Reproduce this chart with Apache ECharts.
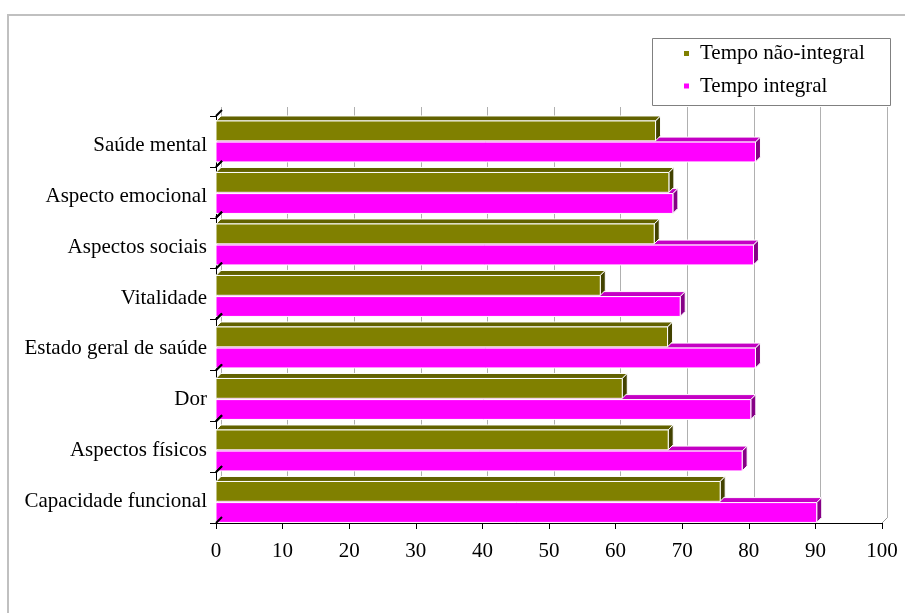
<!DOCTYPE html>
<html>
<head>
<meta charset="utf-8">
<script src="https://cdn.jsdelivr.net/npm/echarts@6/dist/echarts.min.js"></script>
<style>
  html, body { margin: 0; padding: 0; background: #fff; }
  #chart { width: 905px; height: 613px; }
</style>
</head>
<body>
<div id="chart"></div>
<script>
// Domains of the quality-of-life questionnaire, listed bottom to top
const categories = [
  'Capacidade funcional',
  'Aspectos físicos',
  'Dor',
  'Estado geral de saúde',
  'Vitalidade',
  'Aspectos sociais',
  'Aspecto emocional',
  'Saúde mental'
];
const tempoNaoIntegral = [75.7, 67.9, 61, 67.8, 57.7, 65.8, 68, 66];
const tempoIntegral = [90.2, 79, 80.3, 81, 69.7, 80.7, 68.6, 81];
const xTicks = [0, 10, 20, 30, 40, 50, 60, 70, 80, 90, 100];

const seriesNames = ['Tempo não-integral', 'Tempo integral'];
const FONT = "'Liberation Serif', 'Times New Roman', serif";
const FONT_SIZE = 21;
const DEPTH = 5;

// colours for front, top and side faces of each series
const palette = [
  { front: '#808000', top: '#626200', side: '#424200' },
  { front: '#ff00ff', top: '#c400c4', side: '#860086' }
];

function makeBar(slot) {
  const col = palette[slot];
  return function (params, api) {
    const v = api.value(0);
    const c = api.value(1);
    const p0 = api.coord([0, c]);
    const p1 = api.coord([v, c]);
    const band = api.size([0, 1])[1];
    const top = p0[1] - band / 2;
    const y = top + band * (slot === 0 ? 0.155 : 0.565);
    const h = band * 0.385;
    const x0 = p0[0], x1 = p1[0], d = DEPTH;
    const stroke = { stroke: '#ffffff', lineWidth: 1 };
    return {
      type: 'group',
      children: [
        {
          type: 'polygon',
          shape: { points: [[x0, y], [x1, y], [x1 + d, y - d], [x0 + d, y - d]] },
          style: Object.assign({ fill: col.top }, stroke)
        },
        {
          type: 'polygon',
          shape: { points: [[x1, y], [x1 + d, y - d], [x1 + d, y + h - d], [x1, y + h]] },
          style: Object.assign({ fill: col.side }, stroke)
        },
        {
          type: 'rect',
          shape: { x: x0, y: y, width: x1 - x0, height: h },
          style: Object.assign({ fill: col.front }, stroke)
        }
      ]
    };
  };
}

// small perspective marks on the left wall at each category boundary
function wallMark(params, api) {
  const c = api.value(0);
  const p = api.coord([0, c]);
  const band = api.size([0, 1])[1];
  const marks = [];
  [p[1] - band / 2, p[1] + band / 2].forEach(function (yy) {
    marks.push({
      type: 'line',
      shape: { x1: p[0], y1: yy, x2: p[0] + 6, y2: yy - 6 },
      style: { stroke: '#000', lineWidth: 2 }
    });
  });
  return { type: 'group', children: marks };
}

// floor edge marks going back from each value tick
function floorMark(params, api) {
  const v = api.value(0);
  const p = api.coord([v, 0]);
  const band = api.size([0, 1])[1];
  const yy = p[1] + band / 2;
  return {
    type: 'line',
    shape: { x1: p[0], y1: yy, x2: p[0] + DEPTH, y2: yy - DEPTH },
    style: { stroke: '#9a9a9a', lineWidth: 1 }
  };
}

const chart = echarts.init(document.getElementById('chart'), null, { renderer: 'canvas' });

chart.setOption({
  backgroundColor: '#ffffff',
  animation: false,
  textStyle: { fontFamily: FONT },
  graphic: [
    {
      type: 'rect',
      shape: { x: 8, y: 15, width: 1000, height: 800 },
      style: { fill: 'none', stroke: '#c0c0c0', lineWidth: 2 },
      silent: true, z: -10
    },
    {
      type: 'rect',
      shape: { x: 652.5, y: 38.5, width: 238, height: 67 },
      style: { fill: '#fff', stroke: '#808080', lineWidth: 1 },
      silent: true, z: 0
    }
  ],
  legend: {
    orient: 'vertical',
    left: 684,
    top: 43,
    padding: 0,
    itemGap: 11.5,
    itemWidth: 5,
    itemHeight: 5,
    data: [
      { name: seriesNames[0], icon: 'rect' },
      { name: seriesNames[1], icon: 'rect' }
    ],
    textStyle: { fontFamily: FONT, fontSize: FONT_SIZE, color: '#000', padding: [0, 0, 0, 6] },
    z: 5
  },
  grid: [
    // front plane: axis lines and ticks
    { left: 216, right: 23, top: 116, bottom: 90 },
    // back wall: grid lines
    { left: 221, right: 18, top: 107, bottom: 95 },
    // bar layer
    { left: 216, right: 23, top: 113, bottom: 88 },
    // category label layer
    { left: 216, right: 23, top: 120, bottom: 86 }
  ],
  xAxis: [
    {
      gridIndex: 0, type: 'value', min: 0, max: 100, interval: 10,
      axisLine: { show: true, lineStyle: { color: '#000', width: 1 } },
      axisTick: { show: true, length: 6, lineStyle: { color: '#000' } },
      splitLine: { show: false },
      axisLabel: { fontFamily: FONT, fontSize: FONT_SIZE, color: '#000', margin: 18 }
    },
    {
      gridIndex: 1, type: 'value', min: 0, max: 100, interval: 10,
      axisLine: { show: false }, axisTick: { show: false }, axisLabel: { show: false },
      splitLine: { show: true, lineStyle: { color: '#b0b0b0', width: 1 } }
    },
    { gridIndex: 2, type: 'value', min: 0, max: 100, interval: 10, show: false },
    { gridIndex: 3, type: 'value', min: 0, max: 100, interval: 10, show: false }
  ],
  yAxis: [
    {
      gridIndex: 0, type: 'category', data: categories,
      axisLine: { show: true, lineStyle: { color: '#000', width: 1 } },
      axisTick: { show: true, length: 6, lineStyle: { color: '#000' } },
      axisLabel: { show: false }
    },
    { gridIndex: 1, type: 'category', data: categories, show: false },
    { gridIndex: 2, type: 'category', data: categories, show: false },
    {
      gridIndex: 3, type: 'category', data: categories,
      axisLine: { show: false }, axisTick: { show: false },
      axisLabel: { fontFamily: FONT, fontSize: FONT_SIZE, color: '#000', margin: 9 }
    }
  ],
  series: [
    {
      name: seriesNames[1], type: 'custom', xAxisIndex: 2, yAxisIndex: 2,
      itemStyle: { color: palette[1].front },
      renderItem: makeBar(1),
      data: tempoIntegral.map(function (v, i) { return [v, i]; }),
      z: 3
    },
    {
      name: seriesNames[0], type: 'custom', xAxisIndex: 2, yAxisIndex: 2,
      itemStyle: { color: palette[0].front },
      renderItem: makeBar(0),
      data: tempoNaoIntegral.map(function (v, i) { return [v, i]; }),
      z: 4
    },
    {
      name: 'wall', type: 'custom', xAxisIndex: 0, yAxisIndex: 0,
      renderItem: wallMark, silent: true,
      data: categories.map(function (c, i) { return [i]; }),
      z: 5
    },
    {
      name: 'floor', type: 'custom', xAxisIndex: 0, yAxisIndex: 0,
      renderItem: floorMark, silent: true,
      data: xTicks.map(function (v) { return [v]; }),
      z: 1
    }
  ]
});
</script>
</body>
</html>
